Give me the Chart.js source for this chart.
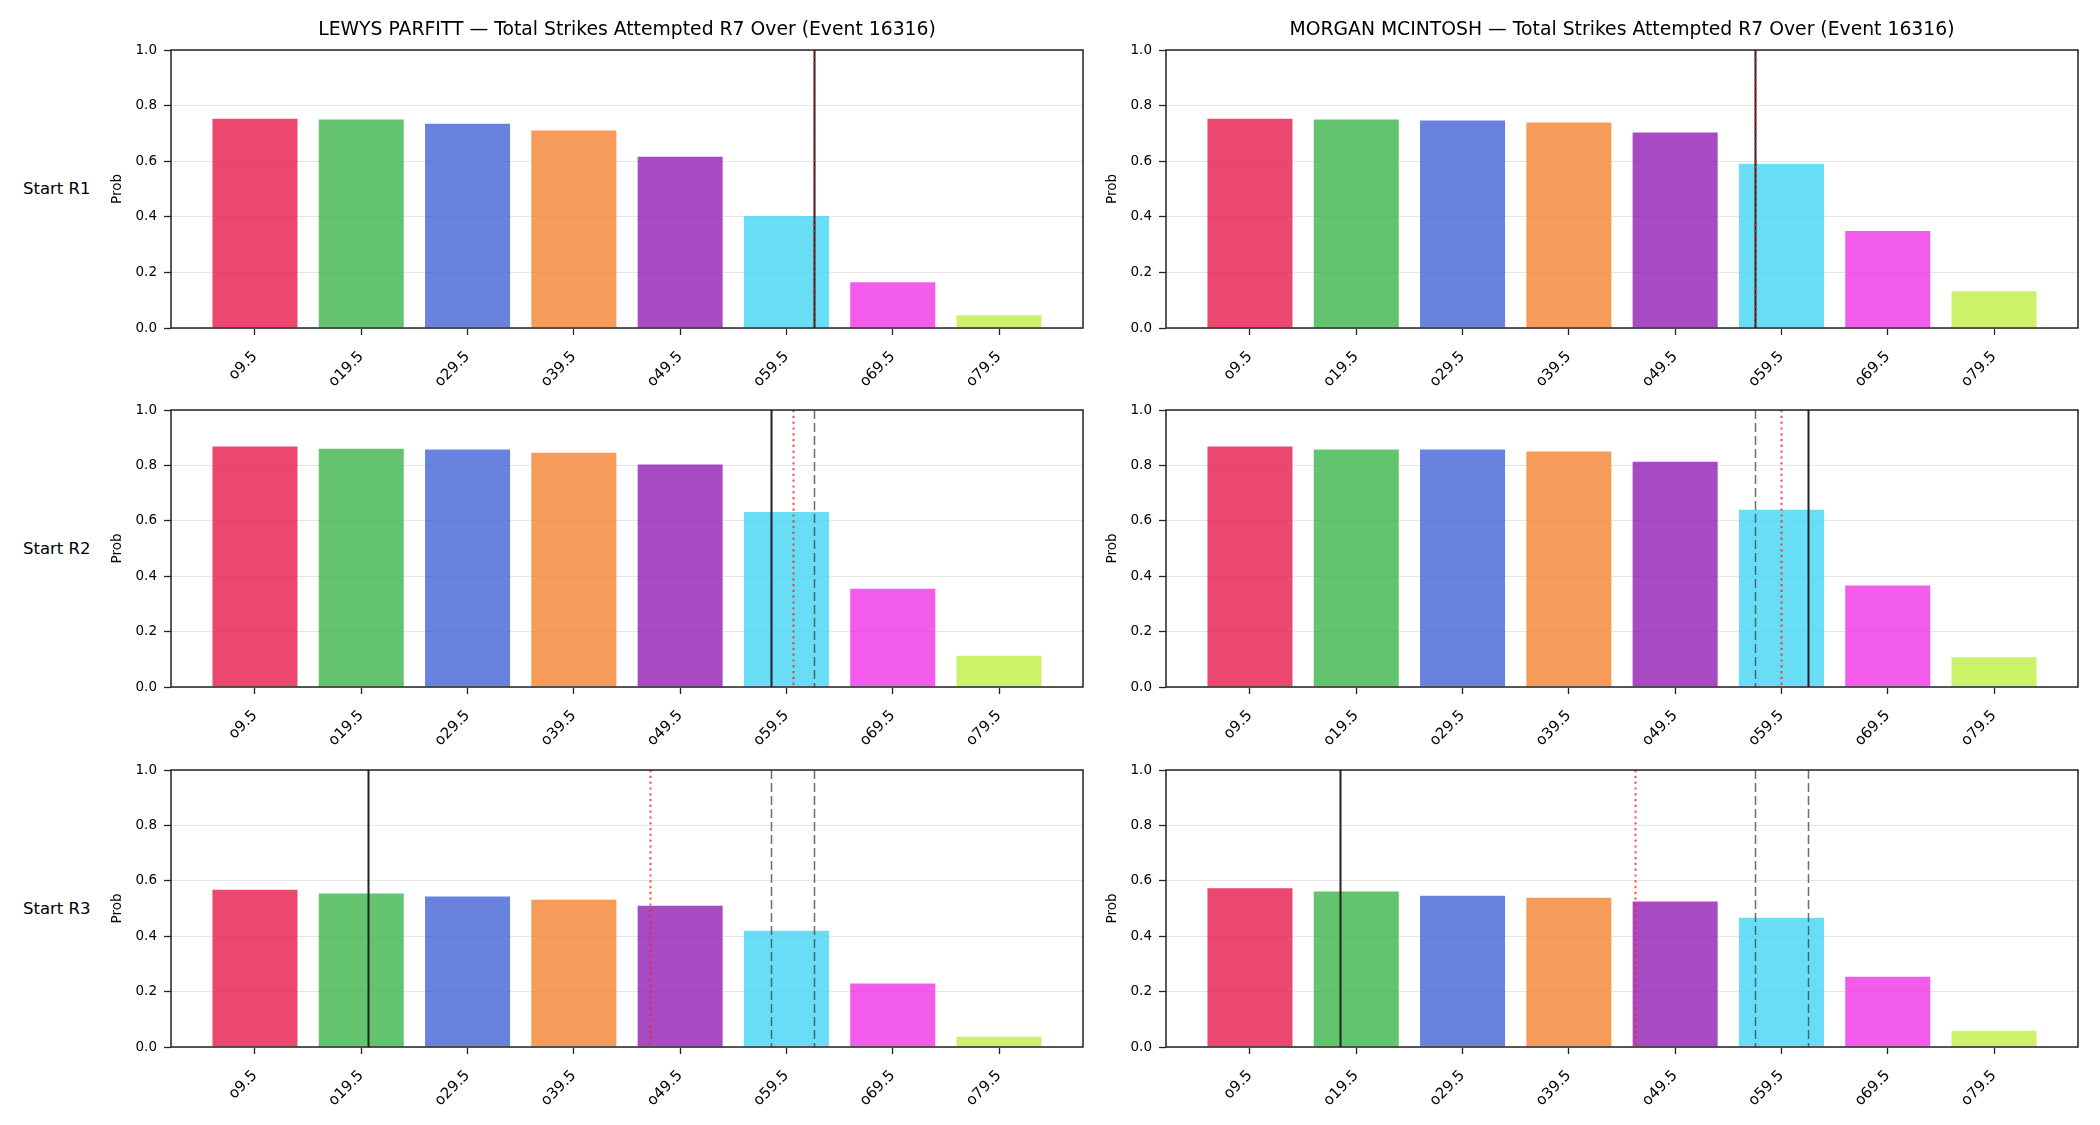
<!DOCTYPE html>
<html>
<head>
<meta charset="utf-8">
<script src="https://cdn.jsdelivr.net/npm/chart.js@4.4.0/dist/chart.umd.min.js"></script>
<style>
  body { margin:0; background:#fff; width:2100px; height:1125px; position:relative; overflow:hidden; font-family:"DejaVu Sans", sans-serif; }
  canvas { position:absolute; }
  .title { position:absolute; font-size:18.8px; line-height:22px; text-align:center; color:#000; white-space:nowrap; }
  .rowlabel { position:absolute; font-size:16.5px; line-height:20px; color:#000; white-space:nowrap; }
</style>
</head>
<body>
<script>
// lines (x categories)
const lineLabels = ['o9.5', 'o19.5', 'o29.5', 'o39.5', 'o49.5', 'o59.5', 'o69.5', 'o79.5'];
const barColors = [
  'rgba(230,25,75,0.8)', 'rgba(60,180,75,0.8)', 'rgba(67,99,216,0.8)', 'rgba(245,130,49,0.8)',
  'rgba(145,30,180,0.8)', 'rgba(66,212,244,0.8)', 'rgba(240,50,230,0.8)', 'rgba(191,239,69,0.8)'
];
const rowNames = ['Start R1', 'Start R2', 'Start R3'];
const fighters = ['LEWYS PARFITT', 'MORGAN MCINTOSH'];

// probabilities per start round
const lewysR1 = [0.753, 0.750, 0.735, 0.710, 0.616, 0.403, 0.165, 0.046];
const lewysR2 = [0.868, 0.860, 0.857, 0.846, 0.803, 0.632, 0.355, 0.113];
const lewysR3 = [0.568, 0.554, 0.543, 0.532, 0.510, 0.420, 0.229, 0.037];
const morganR1 = [0.753, 0.750, 0.746, 0.739, 0.703, 0.591, 0.349, 0.132];
const morganR2 = [0.868, 0.857, 0.857, 0.850, 0.813, 0.640, 0.366, 0.107];
const morganR3 = [0.573, 0.561, 0.546, 0.539, 0.525, 0.467, 0.254, 0.059];

// marker lines, in category units (solid black, red dotted, grey dashed)
const lewysSolid = [5.26, 4.855, 1.06];
const lewysDotted = [5.26, 5.066, 3.72];
const lewysDashed = [[], [5.26], [4.855, 5.26]];
const morganSolid = [4.754, 5.252, 0.85];
const morganDotted = [4.754, 5.0, 3.62];
const morganDashed = [[], [4.75], [4.75, 5.252]];

const yTicks = [0, 0.2, 0.4, 0.6, 0.8, 1.0];

const panels = [
  [lewysR1, lewysSolid[0], lewysDotted[0], lewysDashed[0]],
  [morganR1, morganSolid[0], morganDotted[0], morganDashed[0]],
  [lewysR2, lewysSolid[1], lewysDotted[1], lewysDashed[1]],
  [morganR2, morganSolid[1], morganDotted[1], morganDashed[1]],
  [lewysR3, lewysSolid[2], lewysDotted[2], lewysDashed[2]],
  [morganR3, morganSolid[2], morganDotted[2], morganDashed[2]]
];

const areaLeft = [171, 1166];
const areaTop = [50, 410, 770];
const areaH = [278, 277, 277];
const areaW = 912;
const yAxisW = 62, padTop = 20, padRight = 10, xAxisH = 70;

const vlines = {
  id: 'vlines',
  afterDatasetsDraw(chart, args, o) {
    const ctx = chart.ctx, a = chart.chartArea, xs = chart.scales.x;
    const line = (v, color, w, dash) => {
      const px = Math.round(xs.getPixelForValue(v)) + 0.5;
      ctx.save();
      ctx.beginPath();
      ctx.strokeStyle = color;
      ctx.lineWidth = w;
      ctx.setLineDash(dash);
      ctx.moveTo(px, a.top);
      ctx.lineTo(px, a.bottom);
      ctx.stroke();
      ctx.restore();
    };
    o.dashed.forEach(v => line(v, 'rgba(60,60,60,0.75)', 1.5, [9, 4]));
    line(o.solid, '#222', 2, []);
    line(o.dotted, 'rgba(255,30,30,0.8)', 2, [2.2, 3.6]);
  },
  afterDraw(chart) {
    const ctx = chart.ctx, a = chart.chartArea;
    ctx.save();
    ctx.strokeStyle = '#222';
    ctx.lineWidth = 1.5;
    ctx.strokeRect(a.left, a.top, a.right - a.left, a.bottom - a.top);
    ctx.restore();
  }
};

const font = { family: 'DejaVu Sans', size: 13.5 };
const xFont = { family: 'DejaVu Sans', size: 15 };

panels.forEach((p, i) => {
  const col = i % 2, row = Math.floor(i / 2);
  const cv = document.createElement('canvas');
  const w = yAxisW + areaW + padRight, h = padTop + areaH[row] + xAxisH;
  cv.width = w; cv.height = h;
  cv.style.left = (areaLeft[col] - yAxisW) + 'px';
  cv.style.top = (areaTop[row] - padTop) + 'px';
  cv.style.width = w + 'px'; cv.style.height = h + 'px';
  document.body.appendChild(cv);

  new Chart(cv, {
    type: 'bar',
    data: {
      datasets: [{
        data: p[0].map((v, k) => ({ x: k, y: v })),
        backgroundColor: barColors,
        borderWidth: 0,
        barPercentage: 0.8,
        categoryPercentage: 1.0
      }]
    },
    options: {
      responsive: false,
      animation: false,
      layout: { padding: { top: padTop, right: padRight, left: 0, bottom: 0 } },
      plugins: {
        legend: { display: false },
        tooltip: { enabled: false },
        vlines: { solid: p[1], dotted: p[2], dashed: p[3] }
      },
      scales: {
        x: {
          type: 'linear',
          offset: false,
          min: -0.79,
          max: 7.79,
          afterBuildTicks: s => { s.ticks = lineLabels.map((_, k) => ({ value: k })); },
          afterFit: s => { s.height = xAxisH; },
          ticks: {
            autoSkip: false,
            minRotation: 45,
            maxRotation: 45,
            padding: 13,
            color: '#000',
            font: xFont,
            callback: v => lineLabels[v]
          },
          grid: { offset: false, drawOnChartArea: false, drawTicks: true, tickLength: 7, tickColor: '#222', tickWidth: 1.3 },
          border: { display: false }
        },
        y: {
          min: 0,
          max: 1,
          afterBuildTicks: s => { s.ticks = yTicks.map(v => ({ value: v })); },
          afterFit: s => { s.width = yAxisW; },
          title: { display: true, text: 'Prob', font: font, color: '#000', padding: { top: 0, bottom: 0 } },
          ticks: { padding: 7, color: '#000', font: font, callback: v => v.toFixed(1) },
          grid: { color: '#e6e6e6', lineWidth: 1, tickLength: 7, tickColor: '#222', tickWidth: 1.3 },
          border: { display: false }
        }
      }
    },
    plugins: [vlines]
  });
});

fighters.forEach((f, col) => {
  const d = document.createElement('div');
  d.className = 'title';
  d.style.left = areaLeft[col] + 'px';
  d.style.width = areaW + 'px';
  d.style.top = '18px';
  d.textContent = f + ' \u2014 Total Strikes Attempted R7 Over (Event 16316)';
  document.body.appendChild(d);
});

rowNames.forEach((r, row) => {
  const d = document.createElement('div');
  d.className = 'rowlabel';
  d.style.left = '23px';
  d.style.top = (areaTop[row] + areaH[row] / 2 - 10) + 'px';
  d.textContent = r;
  document.body.appendChild(d);
});
</script>
</body>
</html>
